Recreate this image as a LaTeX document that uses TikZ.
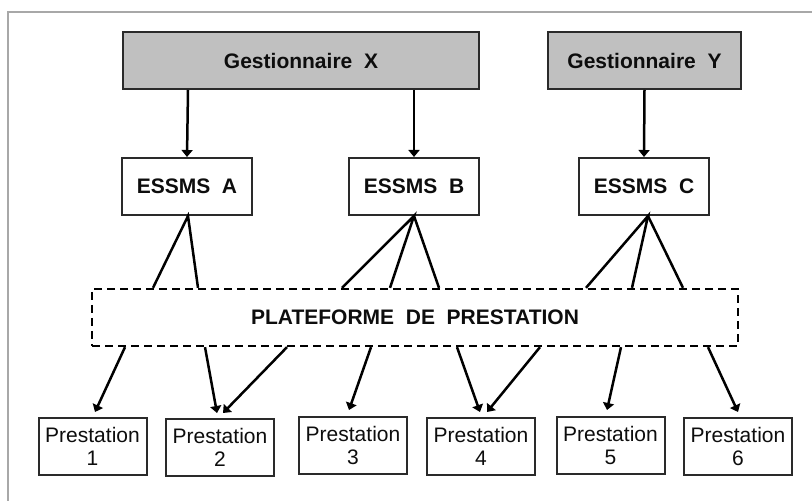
\documentclass[tikz,border=0pt]{standalone}
\usepackage{fontspec}
\setmainfont{Liberation Sans}
\usetikzlibrary{arrows.meta}
\definecolor{edge}{HTML}{2A2A2A}
\definecolor{headfill}{HTML}{C0C0C0}
\definecolor{ink}{HTML}{0D0D0D}
\definecolor{framegray}{HTML}{A8A8A8}
\tikzset{
  box/.style={draw=edge, line width=2pt, inner sep=0pt, text=ink, align=center},
  headbox/.style={box, fill=headfill, minimum height=57pt, font=\fontsize{21}{23}\selectfont\bfseries},
  unitbox/.style={box, fill=white, minimum width=130pt, minimum height=57pt, font=\fontsize{21}{23}\selectfont\bfseries},
  platbox/.style={draw=black, line width=2.3pt, dash pattern=on 8pt off 5pt, inner sep=0pt,
    minimum width=646pt, minimum height=57pt, text=ink, font=\fontsize{21}{23}\selectfont\bfseries},
  prestbox/.style={box, fill=white, minimum width=108pt, minimum height=57pt, font=\fontsize{21}{23}\selectfont},
  link/.style={draw=black, line width=2.5pt},
  arr/.style={link, -{Triangle[length=7pt,width=11pt]}},
}
\begin{document}
\begin{tikzpicture}[x=1pt,y=1pt]
  \useasboundingbox (0,0) rectangle (812,501);
  % open frame: top and left edges
  \coordinate (ftl) at (8,489);
  \coordinate (ftr) at (812,489);
  \coordinate (fbl) at (8,0);
  \draw[framegray, line width=1.6pt] (ftr) -- (ftl) -- (fbl);

  % managers
  \node[headbox, minimum width=356pt] (gx) at (301,440.5) {Gestionnaire~~X};
  \node[headbox, minimum width=193pt] (gy) at (644.5,440.5) {Gestionnaire~~Y};

  % establishments
  \node[unitbox] (ea) at (187,314.5) {ESSMS~~A};
  \node[unitbox] (eb) at (414,314.5) {ESSMS~~B};
  \node[unitbox] (ec) at (644,314.5) {ESSMS~~C};

  % shared platform
  \node[platbox] (pf) at (415,183.5) {PLATEFORME~~DE~~PRESTATION};

  % services
  \node[prestbox] (p1) at (92.5,54.5) {Prestation\\1};
  \node[prestbox] (p2) at (220,53.5) {Prestation\\2};
  \node[prestbox] (p3) at (353,55.5) {Prestation\\3};
  \node[prestbox] (p4) at (481,54.5) {Prestation\\4};
  \node[prestbox] (p5) at (610.5,55.5) {Prestation\\5};
  \node[prestbox] (p6) at (738,54.5) {Prestation\\6};

  % managers to establishments
  \draw[arr] ([xshift=-113pt]gx.south) -- (ea.north);
  \draw[arr] ([xshift=113pt]gx.south) -- (eb.north);
  \draw[arr] (gy.south) -- (ec.north);

  % establishments to platform
  \draw[link] ([xshift=-262pt]pf.north) -- ([xshift=1pt]ea.south) -- ([xshift=-217pt]pf.north);
  \draw[link] ([xshift=-73pt]pf.north) -- (eb.south) -- ([xshift=-25pt]pf.north);
  \draw[link] (eb.south) -- ([xshift=24pt]pf.north);
  \draw[link] ([xshift=171pt]pf.north) -- ([xshift=4pt]ec.south) -- ([xshift=217pt]pf.north);
  \draw[link] ([xshift=4pt]ec.south) -- ([xshift=268pt]pf.north);

  % platform to services
  \draw[arr] ([xshift=-290pt]pf.south) -- ([shift={(2.5pt,5pt)}]p1.north);
  \draw[arr] ([xshift=-210pt]pf.south) -- ([shift={(-3pt,5pt)}]p2.north);
  \draw[arr] ([xshift=-128pt]pf.south) -- ([shift={(3pt,5pt)}]p2.north);
  \draw[arr] ([xshift=-44pt]pf.south) -- ([shift={(-4pt,6pt)}]p3.north);
  \draw[arr] ([xshift=42pt]pf.south) -- ([shift={(-1pt,5pt)}]p4.north);
  \draw[arr] ([xshift=125pt]pf.south) -- ([shift={(6pt,5pt)}]p4.north);
  \draw[arr] ([xshift=206pt]pf.south) -- ([shift={(-3.5pt,6pt)}]p5.north);
  \draw[arr] ([xshift=293pt]pf.south) -- ([shift={(0pt,5pt)}]p6.north);
\end{tikzpicture}
\end{document}
